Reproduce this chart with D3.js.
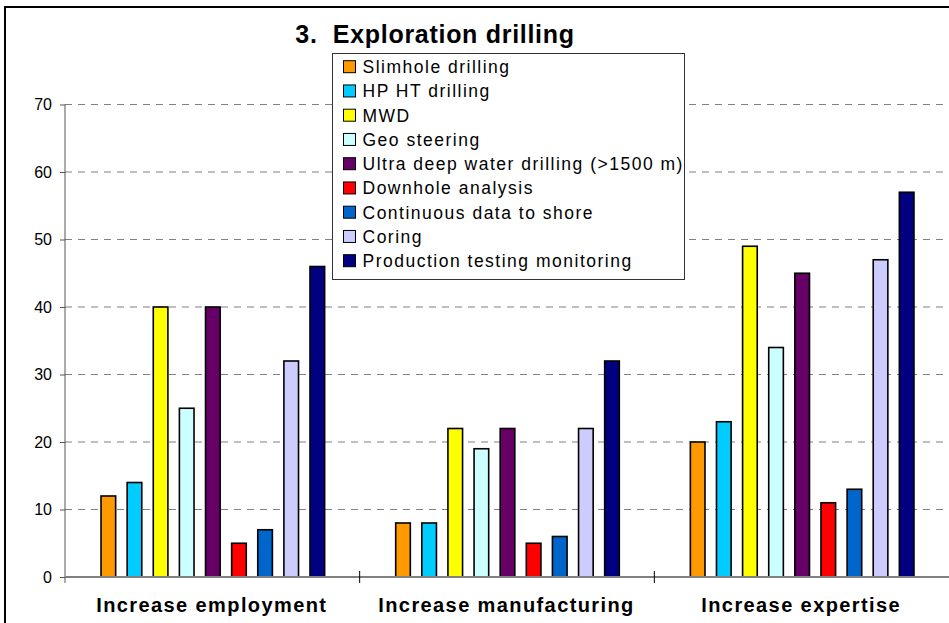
<!DOCTYPE html>
<html>
<head>
<meta charset="utf-8">
<script src="https://cdn.jsdelivr.net/npm/d3@7"></script>
<style>
  body { margin: 0; background: #fff; }
  svg { display: block; font-family: "Liberation Sans", Arial, sans-serif; }
  .tick text { font-size: 16px; fill: #000; }
</style>
</head>
<body>
<div id="viz"></div>
<script>
const width = 949;
const height = 623;

// data
const categories = ["Increase employment", "Increase manufacturing", "Increase expertise"];
const seriesNames = ["Slimhole drilling", "HP HT drilling", "MWD", "Geo steering",
    "Ultra deep water drilling (>1500 m)", "Downhole analysis",
    "Continuous data to shore", "Coring", "Production testing monitoring"];
const employment = [12, 14, 40, 25, 40, 5, 7, 32, 46];
const manufacturing = [8, 8, 22, 19, 22, 5, 6, 22, 32];
const expertise = [20, 23, 49, 34, 45, 11, 13, 47, 57];
const yTicks = [0, 10, 20, 30, 40, 50, 60, 70];
const colors = ["#FF9900", "#00CCFF", "#FFFF00", "#CCFFFF", "#660066", "#FF0000", "#0066CC", "#CCCCFF", "#000080"];

const groups = [employment, manufacturing, expertise];

const svg = d3.select("#viz")
    .append("svg")
    .attr("width", width)
    .attr("height", height);

const margin = { top: 104.5, left: 65, right: 0, bottom: 46 };
const innerWidth = width - margin.left - margin.right;
const innerHeight = height - margin.top - margin.bottom;

// outer chart border (right and bottom edges run off the picture)
svg.append("path")
    .attr("d", `M5,${height} V7 H${width}`)
    .attr("fill", "none")
    .attr("stroke", "#000")
    .attr("stroke-width", 2);

const x0 = d3.scaleBand()
    .domain(categories)
    .range([0, innerWidth])
    .padding(0);

const x1 = d3.scaleBand()
    .domain(seriesNames)
    .range([0, x0.bandwidth()])
    .paddingInner(0.44)
    .paddingOuter(1.36);

const y = d3.scaleLinear()
    .domain([0, 70])
    .range([innerHeight, 0]);

const g = svg.append("g")
    .attr("transform", `translate(${margin.left}, ${margin.top})`);

// gridlines
g.append("g")
    .selectAll("line")
    .data(yTicks.filter(d => d > 0))
    .join("line")
    .attr("x1", 0)
    .attr("x2", innerWidth)
    .attr("y1", d => y(d))
    .attr("y2", d => y(d))
    .attr("stroke", "#808080")
    .attr("stroke-width", 1.2)
    .attr("stroke-dasharray", "7,6");

// y axis
const yAxis = d3.axisLeft(y)
    .tickValues(yTicks)
    .tickSize(5)
    .tickPadding(8);

const yAxisG = g.append("g").call(yAxis);
yAxisG.select(".domain").remove();
yAxisG.selectAll(".tick line").attr("stroke", "#555");
yAxisG.append("line")
    .attr("x1", 0).attr("x2", 0)
    .attr("y1", 0).attr("y2", innerHeight + 6)
    .attr("stroke", "#555");

// bars
const groupG = g.selectAll(".group")
    .data(categories)
    .join("g")
    .attr("class", "group")
    .attr("transform", d => `translate(${x0(d)}, 0)`);

groupG.selectAll("rect")
    .data((d, i) => groups[i].map((v, j) => ({ name: seriesNames[j], value: v, color: colors[j] })))
    .join("rect")
    .attr("x", d => x1(d.name) + 0.5)
    .attr("y", d => y(d.value))
    .attr("width", x1.bandwidth())
    .attr("height", d => innerHeight - y(d.value))
    .attr("fill", d => d.color)
    .attr("stroke", "#000")
    .attr("stroke-width", 1.6);

// x axis
g.append("line")
    .attr("x1", 0).attr("x2", innerWidth)
    .attr("y1", innerHeight).attr("y2", innerHeight)
    .attr("stroke", "#808080")
    .attr("stroke-width", 2);

g.append("g")
    .selectAll("line")
    .data(categories.slice(1))
    .join("line")
    .attr("x1", d => x0(d))
    .attr("x2", d => x0(d))
    .attr("y1", innerHeight - 6)
    .attr("y2", innerHeight + 6)
    .attr("stroke", "#000");

g.append("g")
    .selectAll("text")
    .data(categories)
    .join("text")
    .attr("x", d => x0(d) + x0.bandwidth() / 2 - 0.5)
    .attr("y", innerHeight + 34.5)
    .attr("text-anchor", "middle")
    .attr("font-size", "20px")
    .attr("font-weight", "bold")
    .attr("letter-spacing", "1.4px")
    .text(d => d);

// title
svg.append("text")
    .attr("x", 435)
    .attr("y", 43)
    .attr("text-anchor", "middle")
    .attr("font-size", "25px")
    .attr("font-weight", "bold")
    .attr("letter-spacing", "0.7px")
    .attr("xml:space", "preserve")
    .text("3.  Exploration drilling");

// legend
const legend = svg.append("g")
    .attr("transform", "translate(332.5, 53.5)");

legend.append("rect")
    .attr("width", 352)
    .attr("height", 226)
    .attr("fill", "#fff")
    .attr("stroke", "#333");

const rowStep = 24.25;
const items = legend.selectAll(".item")
    .data(seriesNames)
    .join("g")
    .attr("class", "item")
    .attr("transform", (d, i) => `translate(11, ${13.2 + i * rowStep})`);

items.append("rect")
    .attr("x", 0)
    .attr("y", -6)
    .attr("width", 12)
    .attr("height", 12)
    .attr("fill", (d, i) => colors[i])
    .attr("stroke", "#000");

items.append("text")
    .attr("x", 19)
    .attr("y", 6.5)
    .attr("font-size", "17.5px")
    .attr("letter-spacing", "1.5px")
    .text(d => d);
</script>
</body>
</html>
